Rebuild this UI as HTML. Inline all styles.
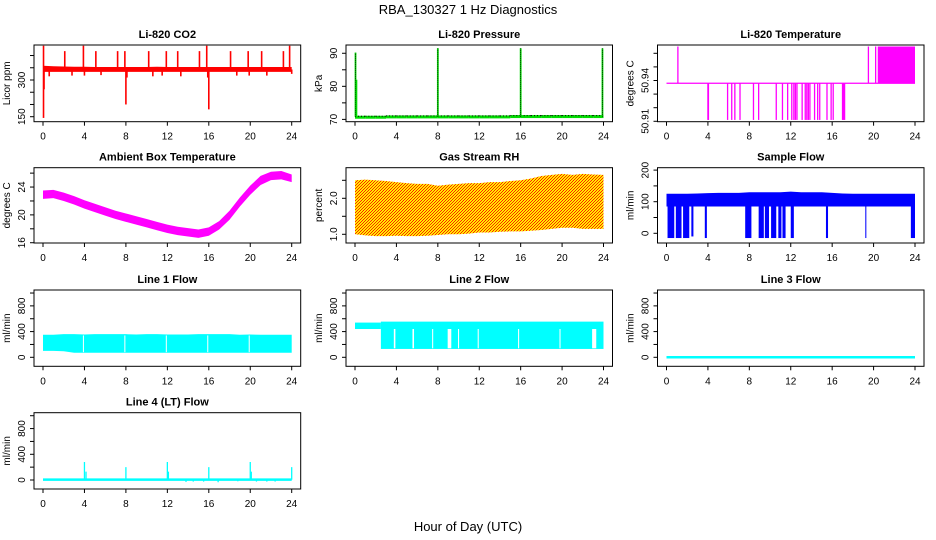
<!DOCTYPE html>
<html><head><meta charset="utf-8"><style>
html,body{margin:0;padding:0;background:#fff;}
svg{display:block;font-family:"Liberation Sans",sans-serif;}
</style></head><body>
<svg id="chart" width="936" height="540" viewBox="0 0 936 540" xmlns="http://www.w3.org/2000/svg">
<defs>
<pattern id="rhpat" width="3" height="3" patternUnits="userSpaceOnUse">
<rect width="3" height="3" fill="#ffee00"/>
<rect x="0" y="0" width="1" height="1" fill="#ff2000"/>
<rect x="2" y="1" width="1" height="1" fill="#ff2000"/>
<rect x="1" y="2" width="1" height="1" fill="#ff2000"/>
</pattern>
</defs>
<text x="468" y="14" text-anchor="middle" font-size="13">RBA_130327  1 Hz Diagnostics</text>
<text x="468" y="531" text-anchor="middle" font-size="13">Hour of Day (UTC)</text>
</svg>
<script>
// ---- data arrays (hourly bands 0..24, spikes/dips) ----
const hours = [0,1,2,3,4,5,6,7,8,9,10,11,12,13,14,15,16,17,18,19,20,21,22,23,24];
const xTicks = [0,4,8,12,16,20,24];

const co2Lo = [333,333,333,333,333,333,333,333,333,333,333,333,333,333,333,333,333,333,333,333,333,333,333,333,333];
const co2Hi = [358,356,355,354,354,353,353,353,353,353,353,354,353,353,353,353,353,353,353,353,353,353,353,353,353];
const co2SpikeT = [0.05,0.1,2.1,3.9,5.1,7.2,7.9,10.2,11.9,13.0,15.1,15.8,18.1,19.8,21.1,23.2,23.8, 0.05,8.0,16.0,0.6,2.8,4.0,5.6,8.1,10.6,11.5,13.3,15.9,18.7,19.9,21.6,24.0];
const co2SpikeV = [440,262,418,440,418,418,418,418,418,418,418,440,418,418,418,418,440, 145,200,180,315,318,318,320,310,315,318,315,310,318,318,318,325];

const presBase = [70.8,70.8,70.8,70.9,70.9,70.9,70.9,70.9,70.9,70.9,70.9,70.9,70.9,70.9,70.9,71.0,71.0,71.0,71.0,71.0,71.0,71.0,71.0,71.0,71.0];
const presSpikeT = [0.05,8.0,16.0,23.9];
const presSpikeV = [90.2,91.5,91.5,91.5];

const ltBase = 50.938;
const ltUpT = [1.1,19.5,20.2];
const ltUpV = [50.965,50.965,50.965];
const ltFillT0 = [20.4];
const ltFillT1 = [24.0];
const ltFillV = [50.965];
const ltDownT = [4.0,4.05,5.9,6.3,6.6,7.1,8.4,8.9,10.6,11.2,11.7,12.1,12.3,12.45,12.6,13.1,13.4,13.55,13.7,13.85,14.3,14.6,14.8,15.5,15.9,16.1,17.0,17.1,17.2];
const ltDownV = [50.911,50.911,50.911,50.911,50.911,50.911,50.911,50.911,50.911,50.911,50.911,50.911,50.911,50.911,50.911,50.911,50.911,50.911,50.911,50.911,50.911,50.911,50.911,50.911,50.911,50.911,50.911,50.911,50.911];

const ambLo = [22.3,22.4,22.0,21.5,20.9,20.4,19.9,19.4,19.0,18.6,18.2,17.8,17.4,17.1,16.9,16.7,17.0,17.9,19.3,21.2,22.9,24.3,25.0,25.1,24.7];
const ambHi = [23.5,23.6,23.2,22.7,22.1,21.6,21.1,20.6,20.2,19.8,19.4,19.0,18.6,18.3,18.1,17.9,18.2,19.1,20.6,22.5,24.2,25.6,26.2,26.3,25.8];

const rhLo = [1.00,0.97,0.95,0.95,0.96,0.95,0.95,0.96,0.98,1.00,1.00,1.02,1.05,1.05,1.07,1.08,1.08,1.10,1.12,1.15,1.18,1.18,1.15,1.15,1.15];
const rhHi = [2.50,2.52,2.50,2.48,2.45,2.42,2.40,2.40,2.35,2.38,2.40,2.42,2.42,2.45,2.45,2.48,2.50,2.55,2.62,2.65,2.68,2.65,2.68,2.66,2.65];

const sfLo = [85,85,85,85,85,85,85,85,85,85,85,85,85,85,85,85,85,85,85,85,85,85,85,85,85];
const sfHi = [125,125,125,126,127,128,128,128,130,130,130,130,132,130,130,130,128,126,125,125,125,125,125,125,125];
const sfDipT0 = [0.1,0.9,1.6,2.4,3.7,7.6,8.9,9.5,10.1,10.8,11.2,12.0,15.4,19.2,23.6];
const sfDipT1 = [0.75,1.45,2.2,2.6,3.9,8.2,9.4,9.9,10.6,11.1,11.5,12.3,15.6,19.3,24.0];
const sfDipV = [-15,-15,-15,-10,-15,-15,-15,-15,-15,-15,-15,-15,-15,-15,-15];

const l1Lo = [100,100,95,70,70,70,70,70,70,70,70,70,70,70,70,70,70,70,70,70,70,70,70,70,70];
const l1Hi = [350,350,360,360,355,360,360,360,360,355,360,360,355,355,355,360,360,360,360,350,355,350,350,350,350];
const l1GapT = [3.9,7.9,11.9,15.9,19.9];

const l2StepT = [0,2.5,24];
const l2StepLo = [440,130];
const l2StepHi = [540,555];
const l2GapT0 = [3.75,5.55,7.45,8.95,9.95,11.85,15.75,19.75,22.9];
const l2GapT1 = [3.9,5.7,7.55,9.3,10.05,11.95,15.85,19.85,23.3];

const l3Val = [0,0,0,0,0,0,0,0,0,0,0,0,0,0,0,0,0,0,0,0,0,0,0,0,0];

const l4Val = [5,5,5,5,5,5,5,5,5,5,5,5,5,5,5,5,5,5,5,5,5,5,5,5,5];
const l4SpikeT = [4.0,4.15,8.0,12.0,12.1,16.0,20.0,20.1,24.0, 13.8,14.5,15.5,16.9,18.8,20.6,21.6,22.4];
const l4SpikeV = [280,130,200,280,130,200,280,130,200, -30,-25,-25,-35,-20,-25,-25,-25];

// ---- layout ----
const NS = "http://www.w3.org/2000/svg";
const svg = document.getElementById('chart');
const colL = [34,346,657.5], colR = [300.7,612.5,924];
const rowT = [45,167.7,290,412.7], rowB = [121.7,243,366.3,489];
function mk(tag, attrs, parent){
  const e = document.createElementNS(NS, tag);
  for (const k in attrs) e.setAttribute(k, attrs[k]);
  (parent||svg).appendChild(e); return e;
}
function panel(col,row,title,ylab,ymin,ymax,ticks,labels,name){
  const L=colL[col],R=colR[col],T=rowT[row],B=rowB[row];
  const g = mk('g',{});
  
  
  const p = {L,R,T,B,ymin,ymax,g,
    sx:t=>L+9+t*(R-L-18)/24,
    sy:v=>B-(v-ymin)/(ymax-ymin)*(B-T)};
  const tt = mk('text',{x:(L+R)/2,y:T-7,'text-anchor':'middle','font-size':'11','font-weight':'bold'},g);
  tt.textContent = title;
  
  
  const yl = mk('text',{x:0,y:0,transform:`translate(${L-24},${(T+B)/2}) rotate(-90)`,'text-anchor':'middle','font-size':'10'},g);
  yl.textContent = ylab;
  
  
  p.plot = mk('g',{},g);
  const ax = mk('g',{stroke:'#000','stroke-width':'1',fill:'none'},g);
  
  
  mk('rect',{x:L,y:T,width:R-L,height:B-T},ax);
  ticks.forEach(v=>{ const y=p.sy(v); mk('line',{x1:L-4,x2:L,y1:y,y2:y},ax); });
  xTicks.forEach(t=>{ const x=p.sx(t); mk('line',{x1:x,x2:x,y1:B,y2:B+4},ax);
    const tx = mk('text',{x:x,y:B+18,'text-anchor':'middle','font-size':'10',stroke:'none',fill:'#000'},g);
    tx.textContent = t;
    
    
  });
  labels.forEach(v=>{ const y=p.sy(v);
    const tx = mk('text',{x:0,y:0,transform:`translate(${L-9},${y}) rotate(-90)`,'text-anchor':'middle','font-size':'10'},g);
    tx.textContent = v;
    
    
  });
  return p;
}
function band(p,lo,hi,fill,name){
  let pts=[];
  hours.forEach((h,i)=>pts.push(p.sx(h)+','+p.sy(hi[i])));
  for(let i=hours.length-1;i>=0;i--) pts.push(p.sx(hours[i])+','+p.sy(lo[i]));
  const e = mk('polygon',{points:pts.join(' '),fill:fill},p.plot);
  
  
}
function vline(p,t,v0,v1,color,w,name,dash){
  const a={x1:p.sx(t),x2:p.sx(t),y1:p.sy(v0),y2:p.sy(v1),stroke:color,'stroke-width':w};
  if(dash) a['stroke-dasharray']=dash;
  const e = mk('line',a,p.plot);
  
  
}
function rectTV(p,t0,t1,v0,v1,fill,name){
  const y0=p.sy(v0),y1=p.sy(v1);
  const e = mk('rect',{x:p.sx(t0),y:Math.min(y0,y1),width:Math.max(1,p.sx(t1)-p.sx(t0)),height:Math.abs(y1-y0),fill:fill},p.plot);
  
  
}
function line(p,vals,color,w,name){
  const pts = hours.map((h,i)=>p.sx(h)+','+p.sy(vals[i])).join(' ');
  const e = mk('polyline',{points:pts,fill:'none',stroke:color,'stroke-width':w},p.plot);
  
  
}
const flowTicks=[0,200,400,600,800,1000], flowLab=[0,400,800];

// CO2
let p = panel(0,0,'Li-820 CO2','Licor ppm',129.6,443,[150,200,250,300,350,400],[150,300],'co2');
band(p,co2Lo,co2Hi,'#ff0000','co2-band');
co2SpikeT.forEach((t,i)=>vline(p,t,343,co2SpikeV[i],'#ff0000',1.6,'co2-spike'));

// Pressure
p = panel(1,0,'Li-820 Pressure','kPa',69.3,92.5,[70,75,80,85,90],[70,80,90],'pressure');
hours.forEach((h,i)=>{ if(i<24) rectTV(p,h,hours[i+1],presBase[i]-0.6,presBase[i]+0.3,'#00dd00','pressure-band'); });
hours.forEach((h,i)=>{ if(i<24){ const e=mk('line',{x1:p.sx(h),x2:p.sx(hours[i+1]),y1:p.sy(presBase[i]+0.15),y2:p.sy(presBase[i]+0.15),stroke:'#000','stroke-width':1,'stroke-dasharray':'1,2'},p.plot);
  
   } });
presSpikeT.forEach((t,i)=>{ vline(p,t,presBase[0],presSpikeV[i],'#00dd00',1.8,'pressure-spike'); vline(p,t,presBase[0],presSpikeV[i],'#000',0.8,'pressure-spike-dots','1,1'); });
vline(p,0.15,71,82,'#00dd00',1.5,'pressure-spike');

// Li-820 temperature
p = panel(2,0,'Li-820 Temperature','degrees C',50.9097,50.9661,[50.91,50.92,50.93,50.94,50.95,50.96],[50.91,50.94],'li820-temp');
{ const e=mk('line',{x1:p.sx(0),x2:p.sx(24),y1:p.sy(ltBase),y2:p.sy(ltBase),stroke:'#ff00ff','stroke-width':1.2},p.plot);
  
   }
ltUpT.forEach((t,i)=>vline(p,t,ltBase,ltUpV[i],'#ff00ff',1.3,'li820-temp-spike'));
ltFillT0.forEach((t,i)=>rectTV(p,t,ltFillT1[i],ltBase,ltFillV[i],'#ff00ff','li820-temp-fill'));
ltDownT.forEach((t,i)=>vline(p,t,ltBase,ltDownV[i],'#ff00ff',1.3,'li820-temp-dip'));

// Ambient
p = panel(0,1,'Ambient Box Temperature','degrees C',15.96,26.78,[16,18,20,22,24,26],[16,20,24],'ambient-temp');
band(p,ambLo,ambHi,'#ff00ff','ambient-temp-band');

// RH
p = panel(1,1,'Gas Stream RH','percent',0.758,2.85,[1.0,1.5,2.0,2.5],['1.0','2.0'],'gas-rh');
band(p,rhLo,rhHi,'url(#rhpat)','gas-rh-band');

// Sample flow
p = panel(2,1,'Sample Flow','ml/min',-30.7,207.6,[0,50,100,150,200],[0,100,200],'sample-flow');
band(p,sfLo,sfHi,'#0000ff','sample-flow-band');
sfDipT0.forEach((t,i)=>rectTV(p,t,sfDipT1[i],sfDipV[i],90,'#0000ff','sample-flow-dip'));

// Line 1
p = panel(0,2,'Line 1 Flow','ml/min',-140,1047,flowTicks,flowLab,'line1-flow');
band(p,l1Lo,l1Hi,'#00ffff','line1-flow-band');
l1GapT.forEach(t=>vline(p,t,80,340,'#fff',1,'line1-flow-gap'));

// Line 2
p = panel(1,2,'Line 2 Flow','ml/min',-140,1047,flowTicks,flowLab,'line2-flow');
l2StepLo.forEach((v,i)=>rectTV(p,l2StepT[i],l2StepT[i+1],v,l2StepHi[i],'#00ffff','line2-flow-band'));
l2GapT0.forEach((t,i)=>rectTV(p,t,l2GapT1[i],140,440,'#fff','line2-flow-gap'));

// Line 3
p = panel(2,2,'Line 3 Flow','ml/min',-140,1047,flowTicks,flowLab,'line3-flow');
line(p,l3Val,'#00ffff',2.5,'line3-flow-line');

// Line 4
p = panel(0,3,'Line 4 (LT) Flow','ml/min',-140,1047,flowTicks,flowLab,'line4-flow');
line(p,l4Val,'#00ffff',2.5,'line4-flow-line');
l4SpikeT.forEach((t,i)=>vline(p,t,5,l4SpikeV[i],'#00ffff',1.3,'line4-flow-spike'));
</script>
</body></html>
